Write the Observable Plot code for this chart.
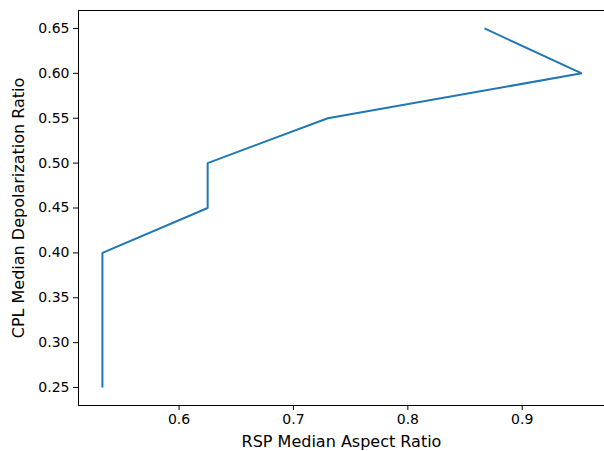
<!DOCTYPE html>
<html>
<head>
<meta charset="utf-8">
<script src="https://cdn.jsdelivr.net/npm/d3@7"></script>
<script src="https://cdn.jsdelivr.net/npm/@observablehq/plot@0.6"></script>
<style>
  html, body { margin: 0; padding: 0; background: #fff; }
  svg { display: block; }
</style>
</head>
<body>
<div id="chart"></div>
<script>
const aspectRatio = [0.533, 0.533, 0.625, 0.625, 0.730, 0.952, 0.867];
const depolRatio  = [0.25, 0.40, 0.45, 0.50, 0.55, 0.60, 0.65];
const xTicks = [0.6, 0.7, 0.8, 0.9];
const yTicks = [0.25, 0.30, 0.35, 0.40, 0.45, 0.50, 0.55, 0.60, 0.65];

const data = aspectRatio.map((x, i) => ({x, y: depolRatio[i]}));

const chart = Plot.plot({
  width: 604,
  height: 451,
  marginLeft: 78,
  marginRight: 0,
  marginTop: 10,
  marginBottom: 46,
  style: {fontFamily: "DejaVu Sans", fontSize: "14px", color: "#000", background: "#fff"},
  x: {domain: [0.5121, 0.9719], ticks: xTicks, tickFormat: d3.format(".1f"), label: null},
  y: {domain: [0.23, 0.67], ticks: yTicks, tickFormat: d3.format(".2f"), label: null},
  marks: [
    Plot.line(data, {x: "x", y: "y", stroke: "#1f77b4", strokeWidth: 2, strokeLinejoin: "miter", strokeLinecap: "butt"}),
    Plot.frame({stroke: "#000", strokeWidth: 1}),
    Plot.axisX({ticks: xTicks, tickFormat: d3.format(".1f"), tickSize: 5, tickPadding: 4, fontSize: 14, label: null}),
    Plot.axisY({ticks: yTicks, tickFormat: d3.format(".2f"), tickSize: 5, tickPadding: 4, fontSize: 14, label: null}),
    Plot.text(["RSP Median Aspect Ratio"], {frameAnchor: "bottom", dy: 36, textAnchor: "middle", lineAnchor: "middle", fontSize: 16, fill: "#000"}),
    Plot.text(["CPL Median Depolarization Ratio"], {frameAnchor: "left", dx: -60, textAnchor: "middle", lineAnchor: "middle", rotate: -90, fontSize: 16, fill: "#000"})
  ]
});
document.getElementById("chart").appendChild(chart);
</script>
</body>
</html>
